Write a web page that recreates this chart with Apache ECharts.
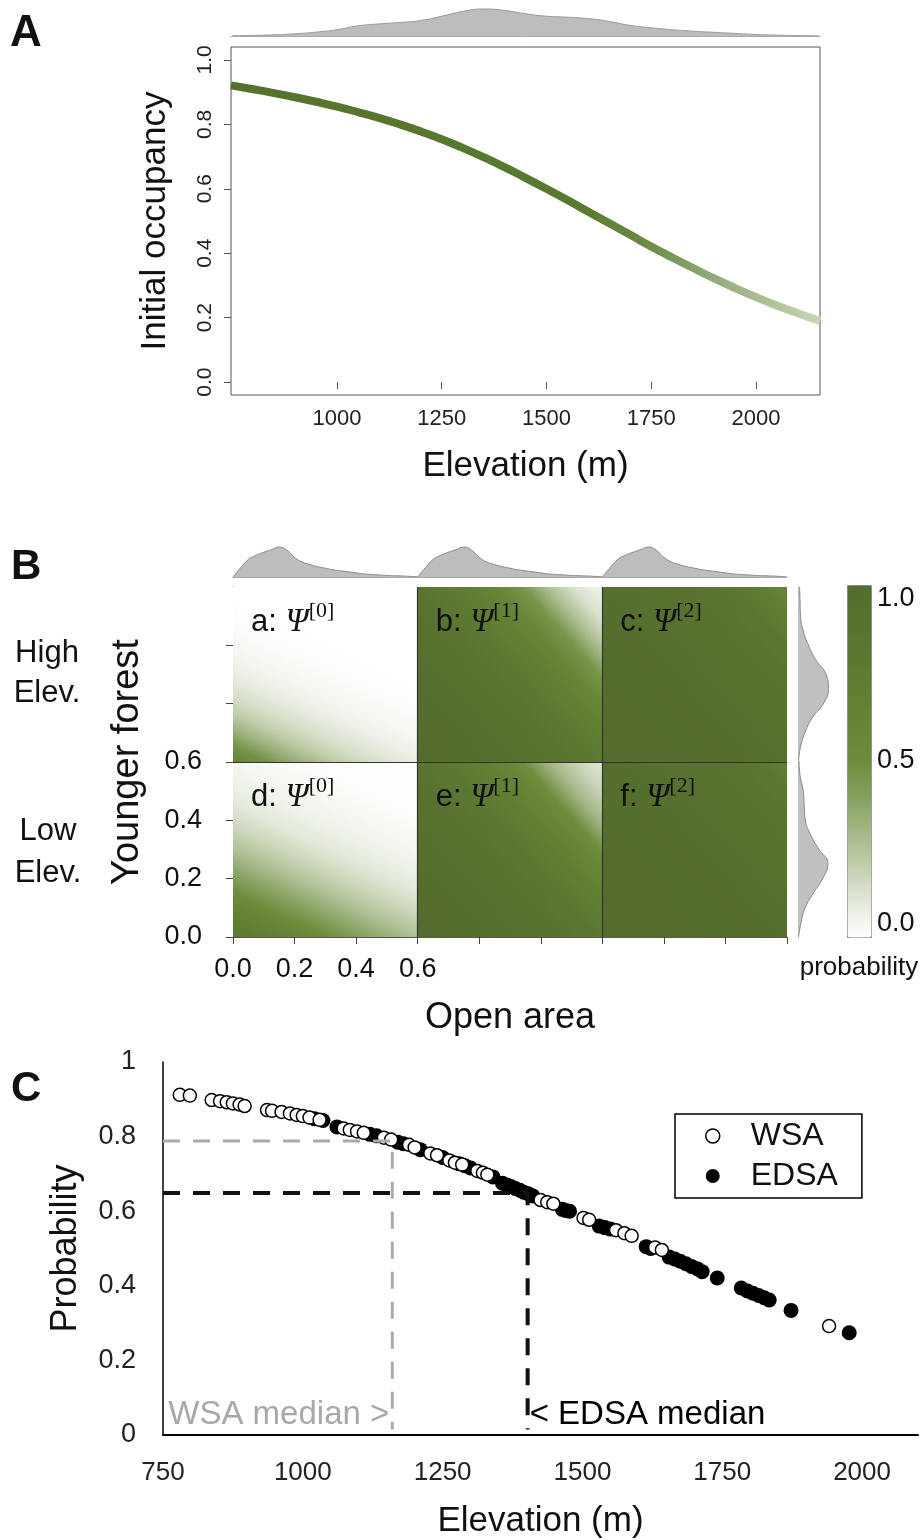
<!DOCTYPE html>
<html>
<head>
<meta charset="utf-8">
<title>Occupancy vs elevation</title>
<script src="https://cdn.jsdelivr.net/npm/echarts@6/dist/echarts.min.js"></script>
<style>
html, body { margin: 0; padding: 0; background: #fff; }
#fig { width: 921px; height: 1540px; }
</style>
</head>
<body>
<div id="fig"></div>
<script>
// ---- A: elevation density strip ----
const densElev = [750, 800, 850, 900, 950, 1000, 1050, 1100, 1150, 1200, 1250, 1300, 1350, 1400, 1450,
  1500, 1550, 1600, 1650, 1700, 1750, 1800, 1850, 1900, 1950, 2000, 2050, 2100, 2150];
const densElevVal = [0.2, 0.6, 1.2, 2.3, 4, 6.5, 10.5, 12.5, 14, 16, 20.5, 25.5, 28, 26.5, 23,
  20.5, 19.5, 18, 15, 11, 8.5, 6.5, 5, 3.8, 2.7, 1.6, 0.9, 0.4, 0.1];

// ---- A: initial occupancy curve ----
const elevA = [747, 800, 850, 900, 950, 1000, 1050, 1100, 1150, 1200, 1250, 1300, 1350, 1400, 1450,
  1500, 1550, 1600, 1650, 1700, 1750, 1800, 1850, 1900, 1950, 2000, 2050, 2100, 2153];
const occA = [0.921, 0.909, 0.897, 0.884, 0.870, 0.855, 0.838, 0.820, 0.800, 0.778, 0.754, 0.727, 0.698, 0.667, 0.634,
  0.600, 0.565, 0.529, 0.493, 0.457, 0.421, 0.387, 0.354, 0.322, 0.292, 0.264, 0.238, 0.214, 0.190];
const elevTicksA = [1000, 1250, 1500, 1750, 2000];
const occTicksA = [0, 0.2, 0.4, 0.6, 0.8, 1.0];

// ---- B: marginal densities ----
const openCats = [0, 0.025, 0.05, 0.075, 0.1, 0.125, 0.15, 0.175, 0.2, 0.225, 0.25, 0.275, 0.3,
  0.325, 0.35, 0.375, 0.4, 0.425, 0.45, 0.475, 0.5, 0.525, 0.55, 0.575, 0.6];
const densOpen = [0, 9, 17, 21, 24, 26.5, 29, 26, 19, 14.5, 12, 10, 8.5,
  7, 6, 5, 4, 3, 2.5, 2, 1.5, 1.2, 1, 0.6, 0.3];
const youngCats = [0, 0.05, 0.1, 0.15, 0.2, 0.25, 0.3, 0.35, 0.4, 0.45, 0.5, 0.55, 0.6];
const densYoungHigh = [0.5, 2.5, 7, 14, 25, 29.5, 27, 17, 10, 5, 2.5, 2, 1.5];
const densYoungLow = [0.5, 3, 7, 15, 24, 29, 20, 12, 7, 6, 5, 2, 1];

// ---- B: probability surfaces (value along the gradient direction of each panel) ----
const colorbarColors = ['#ffffff', '#e3e9da', '#c3cfae', '#a4b787', '#86a060', '#6d8d3d',
  '#668636', '#617f34', '#5b7831', '#58722f', '#546d2e'];
const probA = [0.64, 0.47, 0.32, 0.21, 0.14, 0.09, 0.055, 0.03, 0.015, 0.007, 0];
const probB = [0.05, 0.12, 0.26, 0.46, 0.61, 0.7, 0.79, 0.86, 0.91, 0.95, 0.97, 0.985, 0.995, 1];
const probC = [0.6, 0.72, 0.8, 0.86, 0.9, 0.93, 0.95, 0.97, 0.98, 0.99, 0.995, 1, 1, 1];
const probD = [0.8, 0.67, 0.52, 0.38, 0.26, 0.17, 0.1, 0.06, 0.035, 0.015, 0.005];
const probE = [0.1, 0.18, 0.3, 0.5, 0.64, 0.73, 0.8, 0.87, 0.92, 0.95, 0.97, 0.985, 0.995, 1];
const probF = [0.7, 0.8, 0.86, 0.9, 0.93, 0.95, 0.97, 0.98, 0.99, 0.995, 1, 1, 1, 1];
// gradient start / end in (open area, younger forest) units inside a panel
const fromBL = [0, 0], toA = [0.21, 0.464], toD = [0.28, 0.62];
const fromTR = [0.6, 0.6], toTR = [-0.035, 0.01];

const heatPanels = [
  { tag: 'a', sup: '[0]', col: 0, row: 1, from: fromBL, to: toA, prob: probA },
  { tag: 'b', sup: '[1]', col: 1, row: 1, from: fromTR, to: toTR, prob: probB },
  { tag: 'c', sup: '[2]', col: 2, row: 1, from: fromTR, to: toTR, prob: probC },
  { tag: 'd', sup: '[0]', col: 0, row: 0, from: fromBL, to: toD, prob: probD },
  { tag: 'e', sup: '[1]', col: 1, row: 0, from: fromTR, to: toTR, prob: probE },
  { tag: 'f', sup: '[2]', col: 2, row: 0, from: fromTR, to: toTR, prob: probF }
];

// ---- C: site-level probabilities ----
const wsa = [[780, 0.912], [798, 0.910], [837, 0.898], [852, 0.895], [864, 0.892], [875, 0.889], [887, 0.886],
  [896, 0.882], [936, 0.871], [945, 0.869], [962, 0.866], [977, 0.862], [989, 0.858], [1000, 0.855],
  [1012, 0.851], [1030, 0.845], [1073, 0.822], [1084, 0.818], [1097, 0.814], [1109, 0.810], [1145, 0.797],
  [1158, 0.792], [1190, 0.778], [1200, 0.771], [1228, 0.755], [1240, 0.750], [1262, 0.736], [1272, 0.730],
  [1285, 0.725], [1312, 0.708], [1322, 0.703], [1330, 0.698], [1425, 0.630], [1437, 0.624], [1448, 0.620],
  [1502, 0.582], [1512, 0.577], [1560, 0.549], [1575, 0.541], [1588, 0.534], [1630, 0.503], [1642, 0.496],
  [1941, 0.292]];
const edsa = [[1021, 0.848], [1036, 0.843], [1061, 0.826], [1120, 0.806], [1132, 0.802], [1170, 0.785],
  [1180, 0.781], [1210, 0.765], [1250, 0.744], [1280, 0.727], [1290, 0.722], [1300, 0.716], [1340, 0.692],
  [1357, 0.675], [1365, 0.670], [1372, 0.666], [1380, 0.661], [1388, 0.656], [1395, 0.651], [1403, 0.647],
  [1411, 0.641], [1464, 0.605], [1470, 0.602], [1477, 0.600], [1530, 0.560], [1540, 0.556], [1550, 0.552],
  [1614, 0.505], [1622, 0.500], [1655, 0.477], [1665, 0.472], [1675, 0.466], [1685, 0.459], [1695, 0.452],
  [1705, 0.446], [1714, 0.438], [1741, 0.421], [1784, 0.394], [1795, 0.386], [1805, 0.380], [1815, 0.374],
  [1825, 0.368], [1834, 0.362], [1873, 0.334], [1977, 0.274]];
const wsaMedian = [1160, 0.788];
const edsaMedian = [1402, 0.649];

const FONT = 'Liberation Sans';

function probColor(v) {
  return echarts.color.lerp(Math.max(0, Math.min(1, v)), colorbarColors);
}

function zip(xs, ys) {
  return xs.map((x, i) => [x, ys[i]]);
}

const plain = v => String(v);

const chart = echarts.init(document.getElementById('fig'), null, { renderer: 'canvas' });

const greyArea = { color: '#bdbdbd', opacity: 1 };
const greyLine = { color: '#999', width: 1 };

const series = [];

// A density
series.push({
  type: 'line', xAxisIndex: 0, yAxisIndex: 0, smooth: true, showSymbol: false,
  data: zip(densElev, densElevVal), lineStyle: greyLine, areaStyle: greyArea
});
// A curve
series.push({
  type: 'line', xAxisIndex: 1, yAxisIndex: 1, smooth: true, showSymbol: false,
  data: zip(elevA, occA),
  lineStyle: {
    width: 8,
    color: new echarts.graphic.LinearGradient(0, 0, 1, 0, [
      { offset: 0, color: '#55722c' }, { offset: 0.6, color: '#5a7a30' },
      { offset: 0.7, color: '#6c8a45' }, { offset: 0.8, color: '#8ea772' },
      { offset: 0.9, color: '#adc095' }, { offset: 1, color: '#cad7bb' }
    ])
  }
});
// B top densities, one per column
[0, 1, 2].forEach(function (k) {
  series.push({
    type: 'line', xAxisIndex: 2, yAxisIndex: 2, smooth: true, showSymbol: false,
    data: openCats.map((o, i) => [o + k * 0.6, densOpen[i]]),
    lineStyle: { color: '#8c8c8c', width: 1 }, areaStyle: greyArea
  });
});
// B probability panels
const heatIndex = series.length;
series.push({
  type: 'custom', xAxisIndex: 3, yAxisIndex: 3,
  data: heatPanels.map(p => [p.col * 0.6, p.col * 0.6 + 0.6, p.row * 0.6, p.row * 0.6 + 0.6]),
  encode: { x: [0, 1], y: [2, 3] },
  renderItem: function (params, api) {
    const p = heatPanels[params.dataIndex];
    const ox = p.col * 0.6, oy = p.row * 0.6;
    const tl = api.coord([ox, oy + 0.6]);
    const br = api.coord([ox + 0.6, oy]);
    const g0 = api.coord([ox + p.from[0], oy + p.from[1]]);
    const g1 = api.coord([ox + p.to[0], oy + p.to[1]]);
    const stops = p.prob.map((v, i) => ({ offset: i / (p.prob.length - 1), color: probColor(v) }));
    return {
      type: 'group',
      children: [
        {
          type: 'rect',
          shape: { x: tl[0], y: tl[1], width: br[0] - tl[0], height: br[1] - tl[1] },
          style: { fill: new echarts.graphic.LinearGradient(g0[0], g0[1], g1[0], g1[1], stops, true) }
        },
        {
          type: 'text', x: tl[0] + 18, y: tl[1] + 13,
          style: {
            text: '{n|' + p.tag + ': }{g|Ψ}{s|' + p.sup + '}',
            verticalAlign: 'top', textVerticalAlign: 'top',
            rich: {
              n: { fontSize: 31, fontFamily: FONT, font: '31px "Liberation Sans"', lineHeight: 44, fill: '#111' },
              g: { fontSize: 33, fontFamily: 'Liberation Serif', fontStyle: 'italic',
                   font: 'italic 33px "Liberation Serif"', lineHeight: 44, fill: '#111' },
              s: { fontSize: 22, fontFamily: 'Liberation Serif', font: '22px "Liberation Serif"',
                   verticalAlign: 'top', fill: '#111' }
            }
          }
        }
      ]
    };
  },
  markLine: {
    silent: true, symbol: 'none', label: { show: false },
    lineStyle: { color: '#333', width: 1.2, type: 'solid' },
    data: [{ xAxis: 0.6 }, { xAxis: 1.2 }, { yAxis: 0.6 }]
  }
});
// B right densities
series.push({
  type: 'line', xAxisIndex: 4, yAxisIndex: 4, smooth: true, showSymbol: false,
  data: densYoungHigh, lineStyle: { color: '#888', width: 1 }, areaStyle: { color: '#c0c0c0', opacity: 1 }
});
series.push({
  type: 'line', xAxisIndex: 5, yAxisIndex: 5, smooth: true, showSymbol: false,
  data: densYoungLow, lineStyle: { color: '#888', width: 1 }, areaStyle: { color: '#c0c0c0', opacity: 1 }
});
// C median guides
series.push({
  type: 'line', xAxisIndex: 7, yAxisIndex: 7, showSymbol: false, silent: true,
  data: [[750, wsaMedian[1]], wsaMedian, [wsaMedian[0], 0.015]],
  lineStyle: { color: '#aaaaaa', width: 3, type: [17, 13] }
});
series.push({
  type: 'line', xAxisIndex: 7, yAxisIndex: 7, showSymbol: false, silent: true,
  data: [[750, edsaMedian[1]], edsaMedian, [edsaMedian[0], 0.015]],
  lineStyle: { color: '#111', width: 4, type: [17, 13] }
});
// C points
series.push({
  name: 'EDSA', type: 'scatter', xAxisIndex: 7, yAxisIndex: 7, symbolSize: 15,
  data: edsa, itemStyle: { color: '#000', opacity: 1 }
});
series.push({
  name: 'WSA', type: 'scatter', xAxisIndex: 7, yAxisIndex: 7, symbolSize: 13,
  data: wsa, itemStyle: { color: '#fff', borderColor: '#000', borderWidth: 1.5, opacity: 1 }
});
// C median labels
series.push({
  type: 'scatter', xAxisIndex: 7, yAxisIndex: 7, symbolSize: 0, silent: true,
  itemStyle: { opacity: 1 },
  data: [
    { value: [wsaMedian[0], 0.054],
      label: { show: true, position: 'left', distance: 3, formatter: 'WSA median >', color: '#a8a8a8',
               fontSize: 33, textBorderWidth: 0 } },
    { value: [edsaMedian[0], 0.054],
      label: { show: true, position: 'right', distance: 2, formatter: '< EDSA median', color: '#000',
               fontSize: 33, textBorderWidth: 0 } }
  ]
});

const axisName = (size) => ({ fontSize: size, color: '#111', fontFamily: FONT });

const option = {
  animation: false,
  backgroundColor: '#fff',
  textStyle: { fontFamily: FONT },
  grid: [
    { left: 231, width: 589, top: 8, height: 28 },
    { left: 231, width: 589, top: 47, height: 348, show: true, borderColor: '#555', borderWidth: 1 },
    { left: 233, width: 554, top: 546, height: 31 },
    { left: 233, width: 554, top: 587, height: 350 },
    { left: 798, width: 32, top: 587, height: 174 },
    { left: 798, width: 32, top: 761, height: 176 },
    { left: 847, width: 24, top: 585, height: 352 },
    { left: 163, width: 755, top: 1062, height: 373 }
  ],
  xAxis: [
    { gridIndex: 0, type: 'value', min: 747, max: 2153, axisLine: { lineStyle: { color: '#aaa' } },
      axisTick: { show: false }, axisLabel: { show: false }, splitLine: { show: false } },
    { gridIndex: 1, type: 'value', min: 747, max: 2153,
      axisLine: { show: false },
      axisTick: { show: true, length: 7, customValues: elevTicksA, lineStyle: { color: '#555' } },
      axisLabel: { customValues: elevTicksA, formatter: plain, fontSize: 22, color: '#222', margin: 13 },
      splitLine: { show: false },
      name: 'Elevation (m)', nameLocation: 'middle', nameGap: 54, nameTextStyle: axisName(35) },
    { gridIndex: 2, type: 'value', min: 0, max: 1.8, axisLine: { lineStyle: { color: '#aaa' } },
      axisTick: { show: false }, axisLabel: { show: false }, splitLine: { show: false } },
    { gridIndex: 3, type: 'value', min: 0, max: 1.8,
      axisLine: { lineStyle: { color: '#555', width: 1 } },
      axisTick: { length: 7, customValues: [0, 0.2, 0.4, 0.6, 0.8, 1.0, 1.2, 1.4, 1.6, 1.8], lineStyle: { color: '#444' } },
      axisLabel: { customValues: [0, 0.2, 0.4, 0.6], formatter: v => v.toFixed(1), fontSize: 27, color: '#111', margin: 19 },
      splitLine: { show: false },
      name: 'Open area', nameLocation: 'middle', nameGap: 63, nameTextStyle: axisName(36) },
    { gridIndex: 4, type: 'value', min: 0, max: 31, show: false },
    { gridIndex: 5, type: 'value', min: 0, max: 31, show: false },
    { gridIndex: 6, type: 'value', min: 0, max: 1, axisLine: { show: false }, axisTick: { show: false },
      axisLabel: { show: false }, splitLine: { show: false },
      name: 'probability', nameLocation: 'middle', nameGap: 18, nameTextStyle: axisName(26) },
    { gridIndex: 7, type: 'value', min: 750, max: 2100, interval: 250,
      axisLine: { lineStyle: { color: '#000', width: 2 } }, axisTick: { show: false },
      axisLabel: { formatter: plain, fontSize: 26, color: '#222', margin: 25, showMaxLabel: false },
      splitLine: { show: false },
      name: 'Elevation (m)', nameLocation: 'middle', nameGap: 69, nameTextStyle: axisName(35) }
  ],
  yAxis: [
    { gridIndex: 0, type: 'value', min: 0, max: 29, show: false },
    { gridIndex: 1, type: 'value', min: -0.04, max: 1.04,
      axisLine: { show: false },
      axisTick: { show: true, length: 7, customValues: occTicksA, lineStyle: { color: '#555' } },
      axisLabel: { customValues: occTicksA, formatter: v => v.toFixed(1), rotate: 90, fontSize: 21, color: '#222', margin: 15 },
      splitLine: { show: false },
      name: 'Initial occupancy', nameLocation: 'middle', nameGap: 58, nameTextStyle: axisName(35) },
    { gridIndex: 2, type: 'value', min: 0, max: 30, show: false },
    { gridIndex: 3, type: 'value', min: 0, max: 1.2,
      axisLine: { lineStyle: { color: '#555', width: 1 } },
      axisTick: { length: 7, customValues: [0, 0.2, 0.4, 0.6, 0.8, 1.0], lineStyle: { color: '#444' } },
      axisLabel: { customValues: [0, 0.2, 0.4, 0.6], formatter: v => v.toFixed(1), fontSize: 27, color: '#111', margin: 31 },
      splitLine: { show: false },
      name: 'Younger forest', nameLocation: 'middle', nameGap: 86, nameTextStyle: axisName(38) },
    { gridIndex: 4, type: 'category', data: youngCats, boundaryGap: false,
      axisLine: { lineStyle: { color: '#bbb' } }, axisTick: { show: false }, axisLabel: { show: false } },
    { gridIndex: 5, type: 'category', data: youngCats, boundaryGap: false,
      axisLine: { lineStyle: { color: '#bbb' } }, axisTick: { show: false }, axisLabel: { show: false } },
    { gridIndex: 6, type: 'value', min: 0, max: 1, position: 'right',
      axisLine: { show: false },
      axisTick: { show: true, length: 4, customValues: [0.2, 0.4, 0.6, 0.8], lineStyle: { color: '#666' } },
      axisLabel: { customValues: [0, 0.5, 1], formatter: v => v.toFixed(1), fontSize: 27, color: '#111', margin: 6,
                   verticalAlignMinLabel: 'bottom', verticalAlignMaxLabel: 'top' },
      splitLine: { show: false } },
    { gridIndex: 7, type: 'value', min: 0, max: 1, interval: 0.2,
      axisLine: { lineStyle: { color: '#000', width: 1.5 } }, axisTick: { show: false },
      axisLabel: { fontSize: 27, color: '#222', margin: 27 },
      splitLine: { show: false },
      name: 'Probability', nameLocation: 'middle', nameGap: 79, nameTextStyle: axisName(36) }
  ],
  visualMap: {
    type: 'continuous', min: 0, max: 1, seriesIndex: heatIndex, dimension: 0,
    orient: 'vertical', left: 847, top: 585, itemWidth: 24, itemHeight: 352,
    calculable: false, hoverLink: false, padding: 0,
    borderColor: '#888', borderWidth: 1,
    inRange: { color: colorbarColors }
  },
  legend: {
    data: [
      { name: 'WSA', icon: 'circle', itemStyle: { color: '#fff', borderColor: '#000', borderWidth: 1.5 } },
      { name: 'EDSA', icon: 'circle', itemStyle: { color: '#000' } }
    ],
    orient: 'vertical', left: 675, top: 1114, itemWidth: 14, itemHeight: 14, itemGap: 4,
    padding: [4, 24, 4, 30], borderColor: '#000', borderWidth: 1.5, selectedMode: false,
    textStyle: { fontSize: 32, color: '#111', lineHeight: 36, padding: [0, 0, 0, 26] }
  },
  graphic: [
    { type: 'text', x: 10, y: 12, style: { text: 'A', font: 'bold 44px "Liberation Sans"', fill: '#111' } },
    { type: 'text', x: 11, y: 546, style: { text: 'B', font: 'bold 42px "Liberation Sans"', fill: '#111' } },
    { type: 'text', x: 11, y: 1068, style: { text: 'C', font: 'bold 42px "Liberation Sans"', fill: '#111' } },
    { type: 'text', x: 47, y: 633,
      style: { text: 'High\nElev.', font: '31px "Liberation Sans"', fill: '#111', lineHeight: 40,
               align: 'center', textAlign: 'center' } },
    { type: 'text', x: 48, y: 810,
      style: { text: 'Low\nElev.', font: '31px "Liberation Sans"', fill: '#111', lineHeight: 42,
               align: 'center', textAlign: 'center' } }
  ],
  series: series
};

chart.setOption(option);
</script>
</body>
</html>
